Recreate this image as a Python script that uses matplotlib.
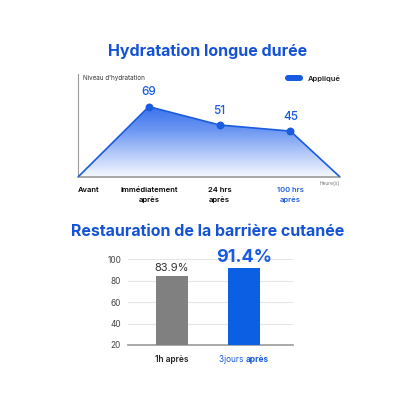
import numpy as np
import matplotlib.pyplot as plt
from matplotlib.patches import FancyBboxPatch

plt.rcParams['font.family'] = ['Inter', 'DejaVu Sans']

# top chart data
stages = ['Avant', 'Immédiatement\naprès', '24 hrs\naprès', '100 hrs\naprès']
stage_x = [0, 1, 2, 3, 3.7]
hydration = [0, 69, 51, 45, 0]

# bottom chart data
bar_labels = ['1h après', '3jours après']
restoration = [83.9, 91.4]

blue = '#1a5ce0'
title_blue = '#1553d6'

fig = plt.figure(figsize=(4.16, 4.16), dpi=100)
fig.patch.set_facecolor('white')

fig.text(0.5, 1 - 51 / 416, 'Hydratation longue durée', ha='center', va='center',
         fontsize=11.5, fontweight='bold', color=title_blue)
fig.text(0.5, 1 - 232 / 416, 'Restauration de la barrière cutanée', ha='center', va='center',
         fontsize=11.5, fontweight='bold', color=title_blue)

# ---- line chart ----
ax = fig.add_axes([78 / 416, 1 - 177 / 416, (340 - 78) / 416, (177 - 74) / 416])
ax.set_xlim(0, 3.7)
ax.set_ylim(0, 101)

# gradient fill under the line
poly = ax.fill_between(stage_x, hydration, 0, facecolor='none', edgecolor='none')
grad = np.linspace(0, 1, 256).reshape(-1, 1)
cmap = plt.matplotlib.colors.LinearSegmentedColormap.from_list(
    'g', ['#f6f8ff', '#b3c9f8', '#6b96f2', '#3a72ec'])
img = ax.imshow(grad, cmap=cmap, aspect='auto', origin='lower',
                extent=[0, 3.7, 0, max(hydration)], zorder=1)
img.set_clip_path(poly.get_paths()[0], transform=ax.transData)

ax.plot(stage_x, hydration, color=blue, lw=1.2, zorder=3)
ax.scatter(stage_x[1:4], hydration[1:4], s=22, color=blue, zorder=4)
for xv, yv in zip(stage_x[1:4], hydration[1:4]):
    ax.text(xv, yv + 8, str(yv), ha='center', va='bottom', fontsize=8.5,
            color=blue, fontweight='medium')

for s in ['top', 'right']:
    ax.spines[s].set_visible(False)
ax.spines['left'].set_color('#9a9a9a')
ax.spines['bottom'].set_color('#9a9a9a')
ax.spines['left'].set_linewidth(0.8)
ax.spines['bottom'].set_linewidth(1.2)
ax.set_yticks([])
ax.set_xticks(stage_x[:4])
ax.set_xticklabels(stages, fontsize=5.5, fontweight='semibold', linespacing=1.5)
ax.tick_params(axis='x', length=0, pad=7)
labels = ax.get_xticklabels()
labels[0].set_ha('left')
labels[3].set_color(blue)
ax.set_facecolor('none')

ax.text(0.02, 0.96, "Niveau d'hydratation", transform=ax.transAxes, fontsize=4.5,
        color='#333333', va='center', ha='left')
ax.text(1.0, -0.065, 'Heure(s)', transform=ax.transAxes, fontsize=3.5,
        color='#777777', ha='right', va='center')

# legend
leg = FancyBboxPatch((285 / 416, 1 - 81 / 416), 18 / 416, 6 / 416,
                     boxstyle='round,pad=0,rounding_size=0.0072',
                     transform=fig.transFigure, facecolor=blue, edgecolor='none')
fig.patches.append(leg)
fig.text(308 / 416, 1 - 78.5 / 416, 'Appliqué', fontsize=5.5, fontweight='semibold',
         color='#222222', va='center')

# ---- bar chart ----
bx = fig.add_axes([128 / 416, 1 - 345 / 416, (293 - 128) / 416, (345 - 257) / 416])
pos = np.arange(len(restoration))
bars = bx.bar(pos, restoration, width=0.45, color=['#808080', '#0b5fe3'], zorder=3)
bx.set_xlim(-0.61, 1.68)
bx.set_ylim(20, 102)
bx.set_yticks([20, 40, 60, 80, 100])
bx.grid(axis='y', color='#e6e6e6', lw=0.8, zorder=0)
for s in ['top', 'right', 'left']:
    bx.spines[s].set_visible(False)
bx.spines['bottom'].set_color('#9a9a9a')
bx.spines['bottom'].set_linewidth(1.2)
bx.tick_params(axis='y', length=0, labelsize=6, labelcolor='#444444', pad=5)
bx.tick_params(axis='x', length=0, pad=8)
bx.set_xticks(pos)
bx.set_xticklabels(['', ''])

bx.text(pos[0], restoration[0] + 3.5, f'{restoration[0]}%', ha='center', va='bottom',
        fontsize=8, color='#333333')
bx.text(pos[1], restoration[1] + 2.5, f'{restoration[1]}%', ha='center', va='bottom',
        fontsize=13, fontweight='bold', color=blue)

# x labels, second one two-tone
bx.text(pos[0], -0.17, bar_labels[0], transform=bx.get_xaxis_transform(), ha='center',
        va='center', fontsize=6, fontweight='semibold', color='#222222')
first, second = bar_labels[1].split(' ')
bx.text(pos[1] + 0.02, -0.17, first + ' ', transform=bx.get_xaxis_transform(), ha='right',
        va='center', fontsize=6, color=blue)
bx.text(pos[1] + 0.02, -0.17, second, transform=bx.get_xaxis_transform(), ha='left',
        va='center', fontsize=6, fontweight='bold', color=blue)

fig.savefig('out.png', dpi=100, facecolor='white')
